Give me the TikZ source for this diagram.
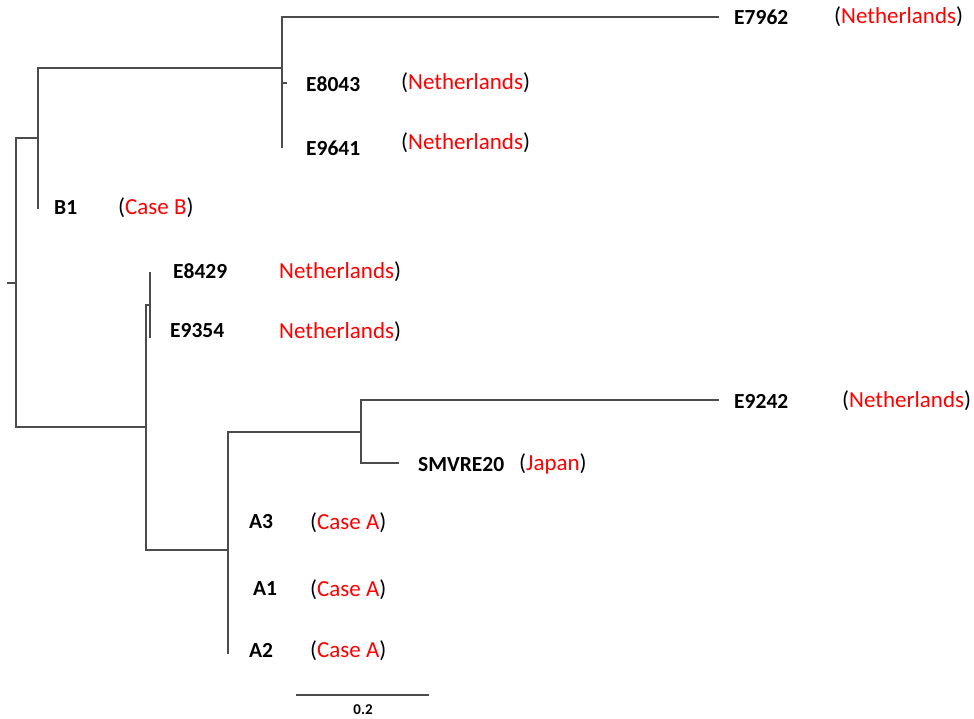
\documentclass[tikz,border=0pt]{standalone}
\usepackage{fontspec}
\setmainfont{Carlito}
\begin{document}
\begin{tikzpicture}[x=1pt,y=-1pt,
  branch/.style={draw=black!70, line width=1.25pt, line cap=rect},
  taxon/.style={anchor=west, inner sep=0pt, text height=14pt, text depth=0pt,
    font=\fontsize{21.5}{24}\selectfont\bfseries},
  origin/.style={anchor=west, inner sep=0pt, text height=14pt, text depth=0pt,
    font=\fontsize{23}{25}\selectfont}]
\useasboundingbox (0,0) rectangle (974,719);

% internal nodes of the tree
\coordinate (r0) at (8,283);
\coordinate (r) at (16,283);
\coordinate (nB) at (38,138);
\coordinate (nE) at (282,68);
\coordinate (nL) at (146,427);
\coordinate (nF) at (150,305);
\coordinate (nA) at (228,550);
\coordinate (nJ) at (361,432);

% branch tips
\coordinate (tE7962) at (718,17);
\coordinate (tE8043) at (286,83);
\coordinate (tE9641) at (282,147);
\coordinate (tB1) at (38,208);
\coordinate (tE8429) at (150,273);
\coordinate (tE9354) at (150,337);
\coordinate (tE9242) at (718,400);
\coordinate (tSM) at (398,463);
\coordinate (tA2) at (228,653);

% branches
\draw[branch] (r0) -- (r);
\draw[branch] (r) |- (nB);
\draw[branch] (r) |- (nL);
\draw[branch] (nB) |- (nE);
\draw[branch] (nB) |- (tB1);
\draw[branch] (nE) |- (tE7962);
\draw[branch] (nE) |- (tE8043);
\draw[branch] (nE) |- (tE9641);
\draw[branch] (nL) |- (nF);
\draw[branch] (nF) |- (tE8429);
\draw[branch] (nF) |- (tE9354);
\draw[branch] (nL) |- (nA);
\draw[branch] (nA) |- (nJ);
\draw[branch] (nA) |- (tA2);
\draw[branch] (nJ) |- (tE9242);
\draw[branch] (nJ) |- (tSM);

% taxon names
\node[taxon] (lE7962) at (734,18) {E7962};
\node[taxon] (lE8043) at (306,85) {E8043};
\node[taxon] (lE9641) at (306,149) {E9641};
\node[taxon] (lB1) at (54,208) {B1};
\node[taxon] (lE8429) at (173,272) {E8429};
\node[taxon] (lE9354) at (170,330) {E9354};
\node[taxon] (lE9242) at (734,401) {E9242};
\node[taxon] (lSM) at (418,464) {SMVRE20};
\node[taxon] (lA3) at (249,521) {A3};
\node[taxon] (lA1) at (253,588) {A1};
\node[taxon] (lA2) at (249,650) {A2};

% origins
\node[origin] (oE7962) at (834,17) {(\textcolor{red}{Netherlands})};
\node[origin] (oE8043) at (401,83) {(\textcolor{red}{Netherlands})};
\node[origin] (oE9641) at (401,143) {(\textcolor{red}{Netherlands})};
\node[origin] (oB1) at (118,208) {(\textcolor{red}{Case B})};
\node[origin] (oE8429) at (279,272) {\textcolor{red}{Netherlands})};
\node[origin] (oE9354) at (279,331) {\textcolor{red}{Netherlands})};
\node[origin] (oE9242) at (842,400) {(\textcolor{red}{Netherlands})};
\node[origin] (oSM) at (519,463) {(\textcolor{red}{Japan})};
\node[origin] (oA3) at (310,522) {(\textcolor{red}{Case A})};
\node[origin] (oA1) at (310,589) {(\textcolor{red}{Case A})};
\node[origin] (oA2) at (310,650) {(\textcolor{red}{Case A})};

% scale bar
\coordinate (sb1) at (297,695);
\coordinate (sb2) at (428,695);
\draw[branch] (sb1) -- (sb2);
\node[font=\fontsize{15}{16}\selectfont\bfseries, inner sep=0pt] (sbl) at (363,710) {0.2};
\end{tikzpicture}
\end{document}
